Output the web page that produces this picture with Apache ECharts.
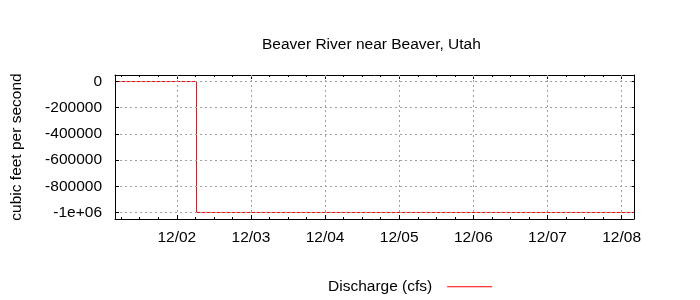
<!DOCTYPE html>
<html><head><meta charset="utf-8">
<script src="https://cdn.jsdelivr.net/npm/echarts@6/dist/echarts.min.js"></script>
<style>html,body{margin:0;padding:0;background:#fff}#c{width:700px;height:300px}</style>
</head><body><div id="c"></div><script>
const chartTitle = 'Beaver River near Beaver, Utah';
const seriesName = 'Discharge (cfs)';
const yAxisName = 'cubic feet per second';
// x values: hours since 12/01 00:00
const hours = [4, 30.4, 30.4, 172];
const discharge = [0, 0, -1000000, -1000000];
const xRange = [4, 172];
const dayTicks = [24, 48, 72, 96, 120, 144, 168];
const dayLabels = ['12/02', '12/03', '12/04', '12/05', '12/06', '12/07', '12/08'];
const minorTicks = [6, 12, 18, 30, 36, 42, 54, 60, 66, 78, 84, 90, 102, 108, 114, 126, 132, 138, 150, 156, 162];
const yRange = [-1050000, 50000];
const yTicks = [-1000000, -800000, -600000, -400000, -200000, 0];
const yLabels = ['-1e+06', '-800000', '-600000', '-400000', '-200000', '0'];

const FONT = 'Liberation Sans';
const FS = 15.5;
const gridLine = { show: true, lineStyle: { color: '#a0a0a0', width: 1, type: [2, 3] } };
const border = { show: true, onZero: false, lineStyle: { color: '#000', width: 1 } };

function xAx(pos, values, len, opts) {
  return Object.assign({
    type: 'value', position: pos, min: xRange[0], max: xRange[1], gridIndex: 0,
    axisLine: { show: false, onZero: false },
    axisTick: { show: true, inside: true, length: len, customValues: values, lineStyle: { color: '#000', width: 1 } },
    axisLabel: { show: false },
    splitLine: { show: false }
  }, opts || {});
}
function yAx(pos, len, opts) {
  return Object.assign({
    type: 'value', position: pos, min: yRange[0], max: yRange[1], gridIndex: 0,
    axisLine: { show: false, onZero: false },
    axisTick: { show: true, inside: true, length: len, customValues: yTicks, lineStyle: { color: '#000', width: 1 } },
    axisLabel: { show: false },
    splitLine: { show: false }
  }, opts || {});
}

const chart = echarts.init(document.getElementById('c'), null, { renderer: 'canvas' });
chart.setOption({
  animation: false,
  backgroundColor: '#fff',
  textStyle: { fontFamily: FONT, color: '#000' },
  title: {
    text: chartTitle, left: 262, top: 37, padding: 0,
    textStyle: { fontFamily: FONT, fontSize: FS, fontWeight: 'normal', color: '#000' }
  },
  legend: {
    data: [{ name: seriesName, icon: 'rect' }], left: 328, top: 278.75, padding: 0, align: 'right',
    itemWidth: 45, itemHeight: 1, itemGap: 0,
    itemStyle: { color: '#ff0000', borderWidth: 0 },
    textStyle: { fontFamily: FONT, fontSize: FS, color: '#000', padding: [0, 10, 0, 0] }
  },
  grid: { left: 115, top: 75, width: 519, height: 144, show: false, containLabel: false, outerBoundsMode: 'none' },
  xAxis: [
    xAx('bottom', dayTicks, 4, {
      z: 3,
      axisLine: border,
      axisLabel: { show: true, customValues: dayTicks, margin: 11, fontFamily: FONT, fontSize: FS, color: '#000',
        formatter: v => dayLabels[dayTicks.indexOf(v)] },
      splitLine: gridLine
    }),
    xAx('bottom', minorTicks, 2),
    xAx('top', dayTicks, 4, { axisLine: border }),
    xAx('top', minorTicks, 2)
  ],
  yAxis: [
    yAx('left', 4, {
      z: 3,
      axisLine: border,
      name: yAxisName, nameLocation: 'middle', nameRotate: 90, nameGap: 90.5,
      nameTextStyle: { fontFamily: FONT, fontSize: FS, color: '#000' },
      axisLabel: { show: true, customValues: yTicks, margin: 13, fontFamily: FONT, fontSize: FS, color: '#000',
        formatter: v => yLabels[yTicks.indexOf(v)] },
      splitLine: gridLine
    }),
    yAx('right', 4, { axisLine: border })
  ],
  series: [{
    name: seriesName, type: 'line', xAxisIndex: 0, yAxisIndex: 0,
    data: hours.map((h, i) => [h, discharge[i]]),
    symbol: 'none', showSymbol: false, z: 2,
    lineStyle: { color: '#ff0000', width: 1 }, itemStyle: { color: '#ff0000' }
  }]
});
</script></body></html>
